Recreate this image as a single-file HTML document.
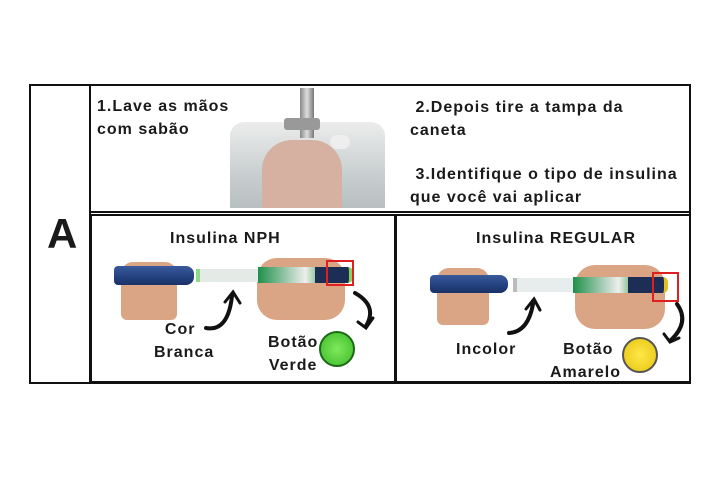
<!DOCTYPE html>
<html><head><meta charset="utf-8"><style>
body{margin:0;width:720px;height:480px;background:#fff;position:relative;overflow:hidden;font-family:"Liberation Sans","DejaVu Sans",sans-serif;font-weight:bold;color:#1a1a1a}
div{position:absolute;box-sizing:border-box}
.t{font-size:16px;letter-spacing:1px;line-height:23px;white-space:nowrap}
.b{border:2px solid #111}
.skin{background:#d9a584;border-radius:12px 12px 6px 6px}
.cap{background:linear-gradient(#3a5a9c,#23407e 60%,#1a3166);border-radius:4px 8px 8px 4px}
</style></head><body>
<div class="b" style="left:29px;top:84px;width:662px;height:300px"></div>
<div style="left:89px;top:84px;width:2px;height:300px;background:#111"></div>
<div style="left:89px;top:211px;width:602px;height:2px;background:#111"></div>
<div class="b" style="left:90px;top:214px;width:306px;height:169px"></div>
<div class="b" style="left:395px;top:214px;width:296px;height:169px"></div>
<div style="left:47px;top:210px;font-size:42px;line-height:48px">A</div>
<div class="t" style="left:97px;top:95px">1.Lave as mãos<br>com sabão</div>
<div class="t" style="left:410px;top:96px">&nbsp;2.Depois tire a tampa da<br>caneta</div>
<div class="t" style="left:410px;top:163px">&nbsp;3.Identifique o tipo de insulina<br>que você vai aplicar</div>
<!-- sink -->
<div style="left:230px;top:122px;width:155px;height:86px;background:linear-gradient(#ececec,#c9cfd0 60%,#b8bfc1);border-radius:14px 14px 0 0"></div>
<div style="left:300px;top:88px;width:14px;height:50px;background:linear-gradient(90deg,#888,#ddd,#777)"></div>
<div style="left:284px;top:118px;width:36px;height:12px;background:#999;border-radius:3px"></div>
<div style="left:262px;top:140px;width:80px;height:68px;background:#d6b0a0;border-radius:30px 30px 0 0"></div>
<div style="left:330px;top:135px;width:20px;height:14px;background:#eee;border-radius:8px"></div>
<!-- NPH -->
<div class="t" style="left:170px;top:227px">Insulina NPH</div>
<div class="skin" style="left:121px;top:262px;width:56px;height:58px"></div>
<div class="skin" style="left:257px;top:258px;width:88px;height:62px;border-radius:20px"></div>
<div class="cap" style="left:114px;top:266px;width:80px;height:19px"></div>
<div style="left:196px;top:269px;width:62px;height:13px;background:#e4eae6;border-left:4px solid #8fd98a"></div>
<div style="left:258px;top:267px;width:68px;height:16px;background:linear-gradient(90deg,#1f8f4a,#eee 70%,#3aa048)"></div>
<div style="left:315px;top:267px;width:38px;height:16px;background:#1c2e55;border-radius:0 5px 5px 0;border-right:4px solid #8ad35a"></div>
<div style="left:326px;top:260px;width:28px;height:26px;border:2px solid #e02020"></div>
<div class="t" style="left:154px;top:318px">&nbsp;&nbsp;Cor<br>Branca</div>
<div class="t" style="left:268px;top:331px;text-align:center">Botão<br>Verde</div>
<div style="left:319px;top:331px;width:36px;height:36px;border-radius:50%;background:radial-gradient(#7fe85a,#3bbb2a);border:2px solid #1d6a16"></div>
<svg style="position:absolute;left:0;top:0" width="720" height="480" fill="none" stroke="#111" stroke-width="4" stroke-linecap="round">
<path d="M206 328 Q228 332 232 296"/><path d="M225 302 L233 292 L240 303" stroke-width="3"/>
<path d="M355 293 Q378 306 366 326"/><path d="M358 322 L366 328 L373 318" stroke-width="3"/>
<path d="M509 333 Q528 332 533 304"/><path d="M526 309 L534 299 L540 310" stroke-width="3"/>
<path d="M677 304 Q690 322 671 340"/><path d="M664 334 L670 342 L679 338" stroke-width="3"/>
</svg>
<!-- REGULAR -->
<div class="t" style="left:476px;top:227px">Insulina REGULAR</div>
<div class="skin" style="left:437px;top:268px;width:52px;height:57px"></div>
<div class="skin" style="left:575px;top:265px;width:90px;height:64px;border-radius:20px"></div>
<div class="cap" style="left:430px;top:275px;width:78px;height:18px"></div>
<div style="left:513px;top:278px;width:60px;height:14px;background:#e7ecec;border-left:4px solid #bbb"></div>
<div style="left:573px;top:277px;width:65px;height:16px;background:linear-gradient(90deg,#1f8f4a,#eee 70%,#3aa048)"></div>
<div style="left:628px;top:277px;width:40px;height:16px;background:#1c2e55;border-radius:0 5px 5px 0;border-right:4px solid #e0c020"></div>
<div style="left:652px;top:272px;width:27px;height:30px;border:2px solid #e02020"></div>
<div class="t" style="left:456px;top:338px">Incolor</div>
<div class="t" style="left:550px;top:338px;text-align:center">&nbsp;Botão<br>Amarelo</div>
<div style="left:622px;top:337px;width:36px;height:36px;border-radius:50%;background:radial-gradient(#ffe84a,#e6c30f);border:2px solid #555"></div>
</body></html>
